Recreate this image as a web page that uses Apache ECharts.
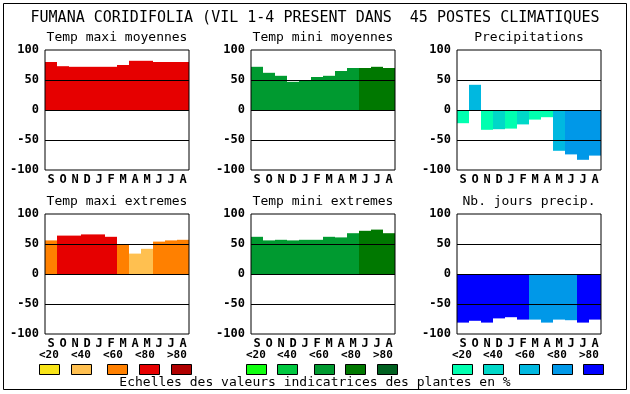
<!DOCTYPE html>
<html><head><meta charset="utf-8">
<script src="https://cdn.jsdelivr.net/npm/echarts@6/dist/echarts.min.js"></script>
<style>html,body{margin:0;padding:0;background:#fff}#c{width:630px;height:394px}</style>
</head><body><div id="c"></div><script>
// ---- data ----
const months = ['S','O','N','D','J','F','M','A','M','J','J','A'];
const yTicks = [-100, -50, 0, 50, 100];
const legendLabels = ['<20','<40','<60','<80','>80'];

const warmColors  = ['#f8e418','#ffc050','#ff8000','#e60000','#b00000'];
const greenColors = ['#10ff10','#00c840','#009a30','#007800','#006020'];
const blueColors  = ['#00ffb0','#00d8c8','#00b8e0','#0098e8','#0000ff'];

const tmaxMoy    = [80,73,72,72,72,72,75,82,82,80,80,80];
const tmaxMoyCls = [3,3,3,3,3,3,3,3,3,3,3,3];
const tminMoy    = [72,62,57,47,50,55,57,65,70,70,72,70];
const tminMoyCls = [2,2,2,2,2,2,2,2,2,3,3,3];
const precip     = [-22,42,-33,-32,-31,-24,-16,-12,-68,-74,-83,-76];
const precipCls  = [0,2,0,1,0,1,0,0,2,3,3,3];
const tmaxExt    = [56,64,64,66,66,62,50,34,42,54,56,57];
const tmaxExtCls = [2,3,3,3,3,3,2,1,1,2,2,2];
const tminExt    = [62,56,57,56,57,57,62,61,68,72,74,68];
const tminExtCls = [2,2,2,2,2,2,2,2,2,3,3,3];
const nbJours    = [-81,-78,-81,-74,-72,-76,-76,-81,-76,-77,-81,-76];
const nbJoursCls = [4,4,4,4,4,4,3,3,3,3,4,4];

const mainTitle = 'FUMANA CORIDIFOLIA (VIL 1-4 PRESENT DANS  45 POSTES CLIMATIQUES';
const footer = 'Echelles des valeurs indicatrices des plantes en %';

// ---- layout ----
const FONT = 'DejaVu Sans Mono';
const panels = [
  {title:'Temp maxi moyennes', vals:tmaxMoy, cls:tmaxMoyCls, pal:warmColors,  left:45,  top:50},
  {title:'Temp mini moyennes', vals:tminMoy, cls:tminMoyCls, pal:greenColors, left:251, top:50},
  {title:'Precipitations',     vals:precip,  cls:precipCls,  pal:blueColors,  left:457, top:50},
  {title:'Temp maxi extremes', vals:tmaxExt, cls:tmaxExtCls, pal:warmColors,  left:45,  top:214},
  {title:'Temp mini extremes', vals:tminExt, cls:tminExtCls, pal:greenColors, left:251, top:214},
  {title:'Nb. jours precip.',  vals:nbJours, cls:nbJoursCls, pal:blueColors,  left:457, top:214}
];
const PW = 144, PH = 120;

const grids = [], xAxes = [], yAxes = [], series = [], graphics = [];
panels.forEach((p, k) => {
  grids.push({left:p.left, top:p.top, width:PW, height:PH, show:true, z:10,
    borderColor:'#000', borderWidth:1, backgroundColor:'transparent', containLabel:false});
  xAxes.push({type:'category', gridIndex:k, data:months,
    axisLine:{show:false}, axisTick:{show:false}, splitLine:{show:false},
    axisLabel:{interval:0, margin:4, color:'#000', fontFamily:FONT, fontWeight:'bold', fontSize:12}});
  yAxes.push({type:'value', gridIndex:k, min:-100, max:100, interval:50,
    axisLine:{show:false}, axisTick:{show:false}, splitLine:{show:false},
    axisLabel:{margin:6, color:'#000', fontFamily:FONT, fontWeight:'bold', fontSize:12,
      formatter: v => yTicks.includes(v) ? String(v) : ''}});
  series.push({type:'bar', xAxisIndex:k, yAxisIndex:k, barWidth:'100%', barCategoryGap:0,
    silent:true, animation:false,
    data: p.vals.map((v,i) => ({value:v, itemStyle:{color:p.pal[p.cls[i]]}})),
    markLine:{silent:true, symbol:'none', animation:false, label:{show:false},
      lineStyle:{color:'#000', width:1, type:'solid'},
      data:[{yAxis:50},{yAxis:0},{yAxis:-50}]}});
  graphics.push({type:'text', x:p.left + PW/2, y:p.top - 12,
    style:{text:p.title, fill:'#000', font:'13px "'+FONT+'"', textAlign:'center', textVerticalAlign:'middle'}});
});

// legend groups
const legendGroups = [
  {pal:warmColors,  labelX:[39,71,103,135,167], boxX:[39,71,107,139,171]},
  {pal:greenColors, labelX:[246,277,309,341,373], boxX:[246,277,314,345,377]},
  {pal:blueColors,  labelX:[452,483,515,547,579], boxX:[452,483,519,552,583]}
];
legendGroups.forEach(gr => {
  legendLabels.forEach((lab, i) => {
    graphics.push({type:'text', x:gr.labelX[i], y:355,
      style:{text:lab, fill:'#000', font:'bold 11px "'+FONT+'"', textAlign:'left', textVerticalAlign:'middle'}});
    graphics.push({type:'rect', shape:{x:gr.boxX[i]+0.5, y:364.5, width:20, height:10},
      style:{fill:gr.pal[i], stroke:'#000', lineWidth:1}});
  });
});

graphics.push({type:'text', x:315, y:18,
  style:{text:mainTitle, fill:'#000', font:'15px "'+FONT+'"', textAlign:'center', textVerticalAlign:'middle'}});
graphics.push({type:'text', x:315, y:383,
  style:{text:footer, fill:'#000', font:'13px "'+FONT+'"', textAlign:'center', textVerticalAlign:'middle'}});
graphics.push({type:'rect', shape:{x:3.5, y:3.5, width:623, height:386},
  style:{fill:'none', stroke:'#000', lineWidth:1}, z:-1});

const chart = echarts.init(document.getElementById('c'), null, {renderer:'canvas'});
chart.setOption({
  animation:false,
  backgroundColor:'#fff',
  grid:grids, xAxis:xAxes, yAxis:yAxes, series:series,
  graphic:{elements:graphics}
});
</script></body></html>
